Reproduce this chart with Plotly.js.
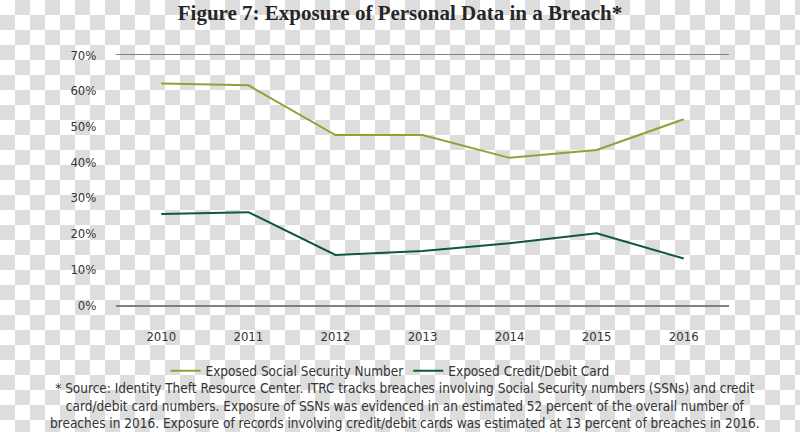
<!DOCTYPE html>
<html>
<head>
<meta charset="utf-8">
<script src="https://cdn.plot.ly/plotly-3.0.1.min.js"></script>
<style>
  html, body { margin: 0; padding: 0; }
  body {
    width: 800px; height: 432px;
    background-color: #ffffff;
    background-image: conic-gradient(#dddddd 0deg 90deg, #ffffff 90deg 180deg, #dddddd 180deg 270deg, #ffffff 270deg 360deg);
    background-size: 30px 30px;
  }
  #chart { width: 800px; height: 432px; }
</style>
</head>
<body>
<div id="chart"></div>
<script>
const years = ["2010", "2011", "2012", "2013", "2014", "2015", "2016"];
const ssnExposure = [62, 61.5, 47.6, 47.6, 41.2, 43.4, 52];
const cardExposure = [25.5, 26, 14, 15.1, 17.3, 20.1, 13];
const yTickVals = [0, 10, 20, 30, 40, 50, 60, 70];
const yTickText = ["0%", "10%", "20%", "30%", "40%", "50%", "60%", "70%"];

const condensed = "'DejaVu Sans Condensed', 'Liberation Sans Narrow', 'Roboto', sans-serif";

const traces = [
  {
    x: years, y: ssnExposure, type: "scatter", mode: "lines",
    name: "Exposed Social Security Number",
    line: { color: "#8fa236", width: 2 }
  },
  {
    x: years, y: cardExposure, type: "scatter", mode: "lines",
    name: "Exposed Credit/Debit Card",
    line: { color: "#0e5a32", width: 2 }
  }
];

const layout = {
  width: 800, height: 432,
  paper_bgcolor: "rgba(0,0,0,0)",
  plot_bgcolor: "rgba(0,0,0,0)",
  margin: { l: 116, r: 71, t: 55, b: 127 },
  title: {
    text: "<b>Figure 7: Exposure of Personal Data in a Breach*</b>",
    font: { family: "'Liberation Serif', 'DejaVu Serif', serif", size: 21, color: "#262626" },
    x: 0.5, xanchor: "center", y: 0.97, yanchor: "middle", yref: "container"
  },
  xaxis: {
    type: "category",
    range: [-0.52, 6.52],
    showgrid: false, zeroline: false,
    showline: true, mirror: true, linecolor: "#808080", linewidth: 1.5,
    ticks: "outside", ticklen: 19, tickcolor: "rgba(0,0,0,0)",
    tickfont: { family: condensed, size: 13, color: "#333333" }
  },
  yaxis: {
    range: [0, 70],
    tickvals: yTickVals, ticktext: yTickText,
    showgrid: false, zeroline: false, showline: false,
    ticks: "outside", ticklen: 16, tickcolor: "rgba(0,0,0,0)",
    tickfont: { family: condensed, size: 13, color: "#333333" }
  },
  showlegend: true,
  legend: {
    orientation: "h",
    x: 0.447, xanchor: "center",
    y: -0.264, yanchor: "middle",
    font: { family: condensed, size: 13.5, color: "#333333" },
    bgcolor: "rgba(0,0,0,0)",
    itemwidth: 30
  },
  annotations: [
    {
      xref: "paper", yref: "paper",
      x: 0.5 - 18 / 613, y: -0.4, xanchor: "center", yanchor: "middle",
      showarrow: false, align: "center",
      font: { family: condensed, size: 13.5, color: "#333333" },
      text: "* Source: Identity Theft Resource Center. ITRC tracks breaches involving Social Security numbers (SSNs) and credit<br>card/debit card numbers. Exposure of SSNs was evidenced in an estimated 52 percent of the overall number of<br>breaches in 2016. Exposure of records involving credit/debit cards was estimated at 13 percent of breaches in 2016."
    }
  ]
};

Plotly.newPlot("chart", traces, layout, { displayModeBar: false, staticPlot: true });
</script>
</body>
</html>
